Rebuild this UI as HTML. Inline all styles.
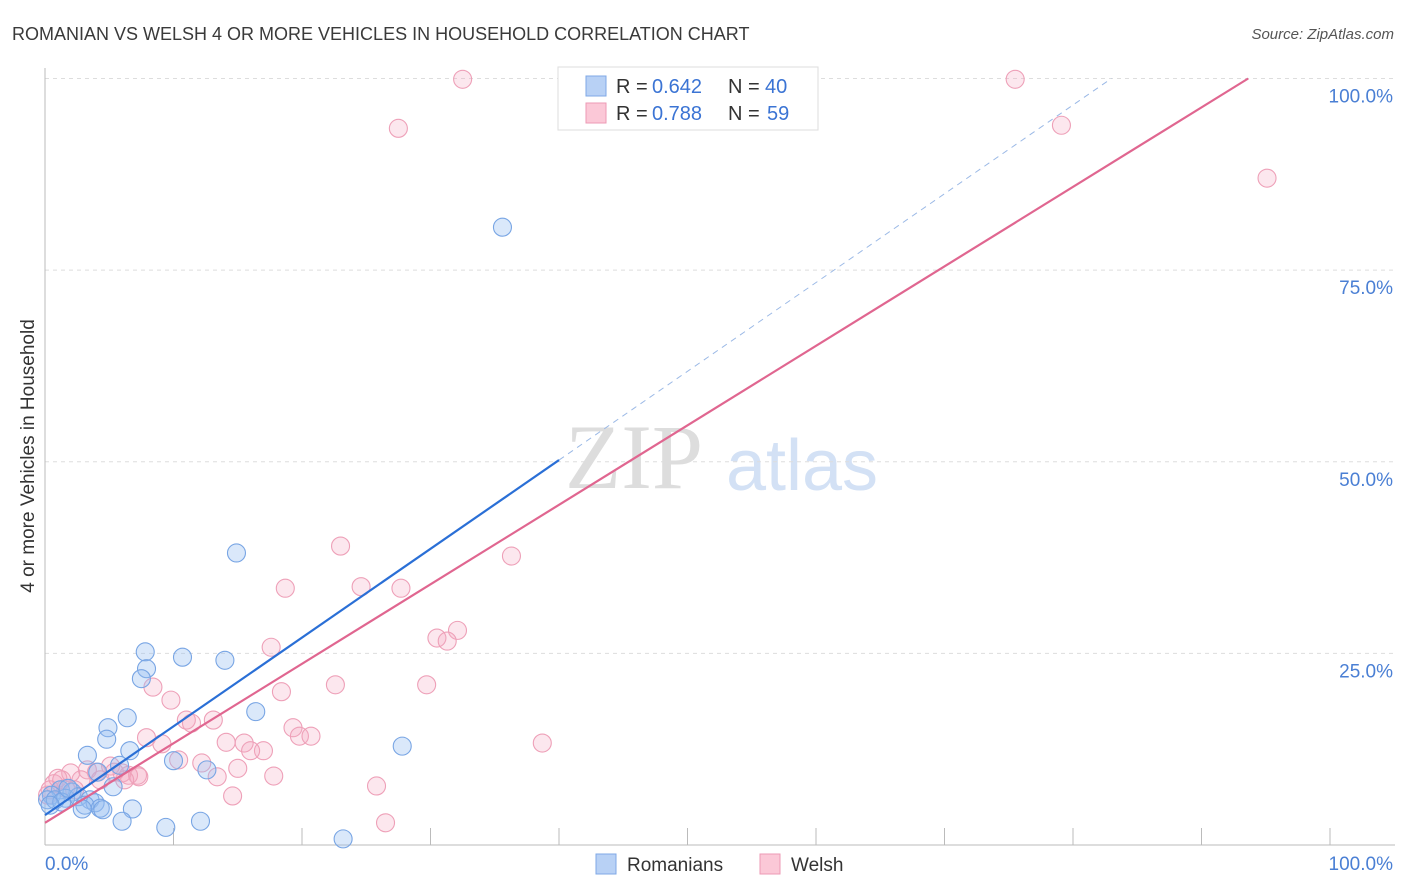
<!DOCTYPE html>
<html><head><meta charset="utf-8"><style>
body{margin:0;background:#fff;font-family:"Liberation Sans",sans-serif;}
svg{display:block}
</style></head><body>
<svg id="chart" width="1406" height="892" xmlns="http://www.w3.org/2000/svg">
<text x="12" y="40" font-size="18" fill="#3a3a3a">ROMANIAN VS WELSH 4 OR MORE VEHICLES IN HOUSEHOLD CORRELATION CHART</text>
<text x="1394" y="39" font-size="15" fill="#555" font-style="italic" text-anchor="end">Source: ZipAtlas.com</text>
<g>
<text x="634" y="488" font-size="92" fill="#ddd" font-family="Liberation Serif,serif" text-anchor="middle">ZIP</text>
<text x="802" y="490" font-size="72" fill="#d3e1f5" text-anchor="middle">atlas</text>
</g>
<g id="grid"></g>
<g id="axes"></g>
<g id="marks"></g>
<g>
<rect x="558" y="67" width="260" height="63" fill="#fff" stroke="#ddd"/>
<rect x="586" y="76" width="20" height="20" fill="#b8d1f5" stroke="#7fa8e6"/>
<rect x="586" y="103" width="20" height="20" fill="#fbc8d7" stroke="#ec9ab4"/>
<text x="616" y="93" font-size="20" fill="#333">R =</text>
<text x="652" y="93" font-size="20" fill="#3b74d4">0.642</text>
<text x="728" y="93" font-size="20" fill="#333">N =</text>
<text x="765" y="93" font-size="20" fill="#3b74d4">40</text>
<text x="616" y="120" font-size="20" fill="#333">R =</text>
<text x="652" y="120" font-size="20" fill="#3b74d4">0.788</text>
<text x="728" y="120" font-size="20" fill="#333">N =</text>
<text x="767" y="120" font-size="20" fill="#3b74d4">59</text>
</g>
<g>
<rect x="596" y="854" width="20" height="20" fill="#b8d1f5" stroke="#7fa8e6"/>
<text x="627" y="871" font-size="19" fill="#333">Romanians</text>
<rect x="760" y="854" width="20" height="20" fill="#fbc8d7" stroke="#ec9ab4"/>
<text x="791" y="871" font-size="19" fill="#333">Welsh</text>
</g>
</svg>
<script>
const romX=[35.6,14.9,7.8,7.9,7.5,10.7,14.0,16.4,6.4,4.9,4.8,3.3,6.6,10.0,12.6,5.8,4.1,5.3,27.8,1.2,2.1,0.5,0.2,0.8,1.6,2.6,3.5,3.9,3.1,2.9,4.3,4.5,6.8,6.0,9.4,12.1,23.2,1.3,0.4,1.8];
const romY=[80.6,38.1,25.2,23.0,21.7,24.5,24.1,17.4,16.6,15.3,13.8,11.7,12.3,11.0,9.8,10.4,9.5,7.6,12.9,7.2,6.9,6.5,5.9,5.9,6.1,6.3,5.9,5.5,5.2,4.7,4.8,4.6,4.7,3.1,2.3,3.1,0.8,5.6,5.2,7.4];
const welX=[32.5,75.5,27.5,79.1,95.1,23.0,36.3,18.7,24.6,27.7,17.6,32.1,30.5,31.3,8.4,9.8,22.6,18.4,29.7,11.0,13.1,11.4,19.3,19.8,20.7,7.9,9.1,14.1,15.5,17.0,38.7,16.0,10.4,12.2,15.0,6.0,7.2,6.5,7.3,4.0,3.3,5.1,17.8,13.4,2.8,2.0,1.6,14.6,25.8,26.5,0.7,0.4,1.0,4.3,6.2,1.3,0.2,5.4,2.3];
const welY=[99.9,99.9,93.5,93.9,87.0,39.0,37.7,33.5,33.7,33.5,25.8,28.0,27.0,26.6,20.6,18.9,20.9,20.0,20.9,16.3,16.3,15.9,15.3,14.2,14.2,14.0,13.2,13.4,13.3,12.3,13.3,12.3,11.1,10.7,10.0,9.4,9.1,9.1,8.9,9.5,9.8,10.3,9.0,8.9,8.5,9.4,7.4,6.4,7.7,2.9,8.0,7.2,8.7,8.5,8.5,8.5,6.5,9.5,7.2];
const yTicks=[25,50,75,100];
const yTickLabels=["25.0%","50.0%","75.0%","100.0%"];
const xTicks=[0,10,20,30,40,50,60,70,80,90,100];
const romTrend=[3.9,1.158,40];
const welTrend=[2.9,1.037];
const NS="http://www.w3.org/2000/svg";
const X=v=>45+v*12.85, Y=v=>845-v*7.665;
function mk(p,tag,a){const e=document.createElementNS(NS,tag);for(const k in a)e.setAttribute(k,a[k]);p.appendChild(e);return e;}
const grid=document.getElementById('grid'),axes=document.getElementById('axes'),marks=document.getElementById('marks');
yTicks.forEach((t,i)=>{
 const l=mk(grid,'line',{x1:45,x2:1395,y1:Y(t),y2:Y(t),stroke:'#ddd','stroke-dasharray':'4 4'});
 
 
 const tx=mk(axes,'text',{x:1393,y:Y(t)+24,'font-size':19,fill:'#4a7fd4','text-anchor':'end'});
 tx.textContent=yTickLabels[i];
 
 
});
const ax=mk(axes,'line',{x1:45,x2:45,y1:68,y2:845,stroke:'#bbb'});


const bx=mk(axes,'line',{x1:45,x2:1395,y1:845,y2:845,stroke:'#bbb'});


xTicks.forEach(t=>{const l=mk(axes,'line',{x1:X(t),x2:X(t),y1:828,y2:845,stroke:'#bbb'});
 
 });
const x0=mk(axes,'text',{x:45,y:870,'font-size':19,fill:'#4a7fd4'});x0.textContent='0.0%';


const x1=mk(axes,'text',{x:1393,y:870,'font-size':19,fill:'#4a7fd4','text-anchor':'end'});x1.textContent='100.0%';


const yt=mk(axes,'text',{x:0,y:0,'font-size':19,fill:'#333','text-anchor':'middle',transform:'translate(34,456) rotate(-90)'});yt.textContent='4 or more Vehicles in Household';


welX.forEach((v,i)=>{const c=mk(marks,'circle',{cx:X(v),cy:Y(welY[i]),r:9,fill:'rgba(246,168,194,0.28)',stroke:'#eea0b8','stroke-width':1.1});
 
 });
romX.forEach((v,i)=>{const c=mk(marks,'circle',{cx:X(v),cy:Y(romY[i]),r:9,fill:'rgba(150,190,240,0.35)',stroke:'#78a5e4','stroke-width':1.1});
 
 });
const xe=(100-romTrend[0])/romTrend[1];
const rd=mk(marks,'line',{x1:X(romTrend[2]),y1:Y(romTrend[0]+romTrend[1]*romTrend[2]),x2:X(xe),y2:Y(100),stroke:'#9bb9e6','stroke-width':1,'stroke-dasharray':'6 5'});


const rl=mk(marks,'line',{x1:X(0),y1:Y(romTrend[0]),x2:X(romTrend[2]),y2:Y(romTrend[0]+romTrend[1]*romTrend[2]),stroke:'#2a6fd6','stroke-width':2.2});


const we=(100-welTrend[0])/welTrend[1];
const wl=mk(marks,'line',{x1:X(0),y1:Y(welTrend[0]),x2:X(we),y2:Y(100),stroke:'#e06690','stroke-width':2.2});


</script>
</body></html>
